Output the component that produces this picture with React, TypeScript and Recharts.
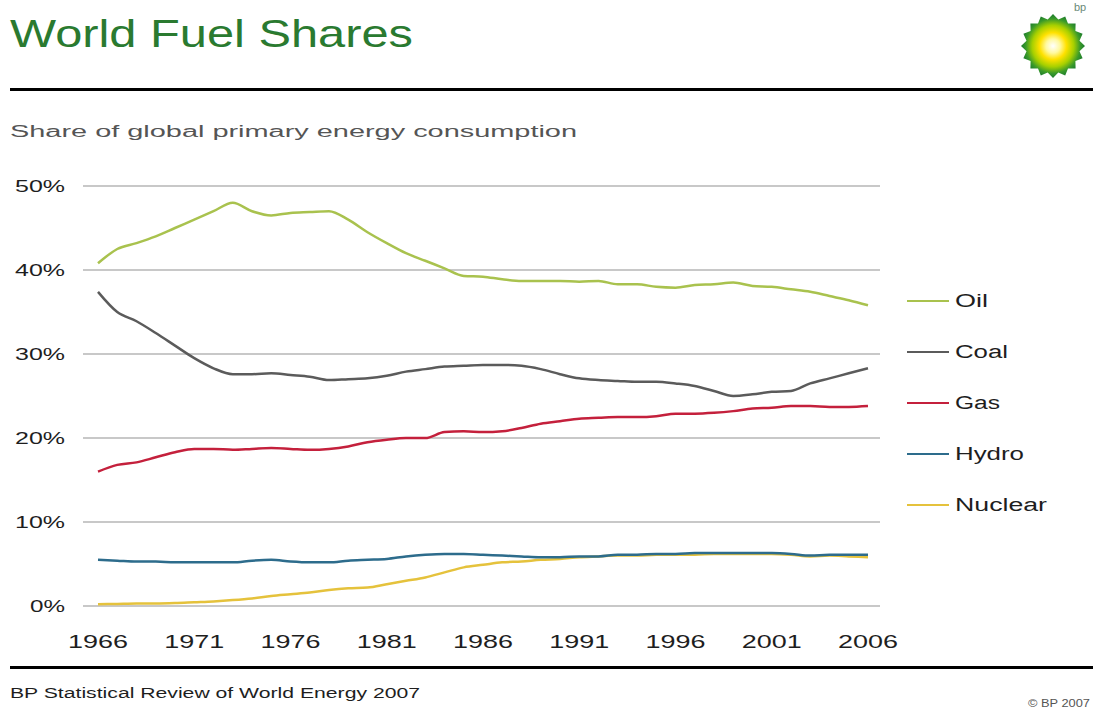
import { CartesianGrid, Line, LineChart, XAxis, YAxis } from "recharts";

const years = [
  1966, 1967, 1968, 1969, 1970, 1971, 1972, 1973, 1974, 1975, 1976, 1977, 1978, 1979,
  1980, 1981, 1982, 1983, 1984, 1985, 1986, 1987, 1988, 1989, 1990, 1991, 1992, 1993,
  1994, 1995, 1996, 1997, 1998, 1999, 2000, 2001, 2002, 2003, 2004, 2005, 2006,
];

const oil = [
  40.8, 42.5, 43.2, 44.0, 45.0, 46.0, 47.0, 48.0, 47.0, 46.5, 46.8, 46.9, 47.0, 46.0,
  44.5, 43.2, 42.0, 41.1, 40.2, 39.3, 39.2, 38.9, 38.7, 38.7, 38.7, 38.6, 38.7, 38.3,
  38.3, 38.0, 37.9, 38.2, 38.3, 38.5, 38.1, 38.0, 37.7, 37.4, 36.9, 36.4, 35.8,
];

const coal = [
  37.4, 35.0, 33.9, 32.5, 31.0, 29.5, 28.3, 27.6, 27.6, 27.7, 27.5, 27.3, 26.9, 27.0,
  27.1, 27.4, 27.9, 28.2, 28.5, 28.6, 28.7, 28.7, 28.6, 28.2, 27.6, 27.1, 26.9, 26.8,
  26.7, 26.7, 26.5, 26.2, 25.6, 25.0, 25.2, 25.5, 25.6, 26.5, 27.1, 27.7, 28.3,
];

const gas = [
  16.0, 16.8, 17.1, 17.7, 18.3, 18.7, 18.7, 18.6, 18.7, 18.8, 18.7, 18.6, 18.7, 19.0,
  19.5, 19.8, 20.0, 20.0, 20.7, 20.8, 20.7, 20.8, 21.2, 21.7, 22.0, 22.3, 22.4, 22.5,
  22.5, 22.6, 22.9, 22.9, 23.0, 23.2, 23.5, 23.6, 23.8, 23.8, 23.7, 23.7, 23.8,
];

const hydro = [
  5.5, 5.4, 5.3, 5.3, 5.2, 5.2, 5.2, 5.2, 5.4, 5.5, 5.3, 5.2, 5.2, 5.4,
  5.5, 5.6, 5.9, 6.1, 6.2, 6.2, 6.1, 6.0, 5.9, 5.8, 5.8, 5.9, 5.9, 6.1,
  6.1, 6.2, 6.2, 6.3, 6.3, 6.3, 6.3, 6.3, 6.2, 6.0, 6.1, 6.1, 6.1,
];

const nuclear = [
  0.2, 0.25, 0.3, 0.3, 0.35, 0.45, 0.55, 0.7, 0.9, 1.2, 1.4, 1.6, 1.9, 2.1,
  2.2, 2.6, 3.0, 3.4, 4.0, 4.6, 4.9, 5.2, 5.3, 5.5, 5.6, 5.8, 5.9, 6.0,
  6.0, 6.1, 6.1, 6.1, 6.2, 6.2, 6.2, 6.2, 6.1, 5.9, 6.0, 5.9, 5.8,
];

const yTicks = [0, 10, 20, 30, 40, 50];

const SERIES = [
  { key: "oil", name: "Oil", color: "#a9c24e", width: 33 },
  { key: "coal", name: "Coal", color: "#5b5b5b", width: 53 },
  { key: "gas", name: "Gas", color: "#c4203c", width: 45 },
  { key: "hydro", name: "Hydro", color: "#2d6c8c", width: 69 },
  { key: "nuclear", name: "Nuclear", color: "#e5c23c", width: 92 },
];

const rows = years.map((year, i) => ({
  year,
  oil: oil[i],
  coal: coal[i],
  gas: gas[i],
  hydro: hydro[i],
  nuclear: nuclear[i],
}));

const FONT = "'Liberation Sans', Arial, sans-serif";

function YTick({ y, payload }: any) {
  const label = `${payload.value}%`;
  return (
    <text
      x={65}
      y={y}
      dy={6}
      textAnchor="end"
      textLength={label.length === 2 ? 35 : 50}
      lengthAdjust="spacingAndGlyphs"
      fontFamily={FONT}
      fontSize={17}
      fill="#1e1e1e"
    >
      {label}
    </text>
  );
}

function XTick({ x, payload }: any) {
  return (
    <text
      x={x - 30}
      y={648}
      textLength={60}
      lengthAdjust="spacingAndGlyphs"
      fontFamily={FONT}
      fontSize={19}
      fill="#1e1e1e"
    >
      {payload.value}
    </text>
  );
}

function FuelLegend() {
  return (
    <div style={{ position: "absolute", left: 905, top: 286, width: 190, height: 260 }}>
      {SERIES.map((s, i) => (
        <div
          key={s.key}
          style={{ position: "absolute", left: 0, top: i * 51, height: 30, width: 190 }}
        >
          <div
            style={{
              position: "absolute",
              left: 2,
              top: 14,
              width: 42,
              height: 2,
              background: s.color,
            }}
          />
          <svg style={{ position: "absolute", left: 48, top: 0 }} width={140} height={30}>
            <text
              x={2}
              y={21}
              textLength={s.width}
              lengthAdjust="spacingAndGlyphs"
              fontFamily={FONT}
              fontSize={18}
              fill="#1e1e1e"
            >
              {s.name}
            </text>
          </svg>
        </div>
      ))}
    </div>
  );
}

function Logo() {
  const cx = 1053;
  const cy = 46;
  const pts: string[] = [];
  const n = 16;
  for (let k = 0; k < n * 2; k++) {
    const r = k % 2 === 0 ? 32 : 27;
    const a = (Math.PI * k) / n;
    pts.push(`${(cx + r * Math.cos(a)).toFixed(1)},${(cy + r * Math.sin(a)).toFixed(1)}`);
  }
  return (
    <g>
      <defs>
        <radialGradient id="bpSun" cx="0.5" cy="0.5" r="0.5">
          <stop offset="0%" stopColor="#ffffff" />
          <stop offset="22%" stopColor="#fff9a0" />
          <stop offset="42%" stopColor="#ffe100" />
          <stop offset="65%" stopColor="#a7d000" />
          <stop offset="85%" stopColor="#3a9a2a" />
          <stop offset="100%" stopColor="#1c7a2e" />
        </radialGradient>
      </defs>
      <polygon points={pts.join(" ")} fill="url(#bpSun)" />
      <text x={1074} y={11} fontFamily={FONT} fontSize={11} fill="#6a8a78">
        bp
      </text>
    </g>
  );
}

export default function App() {
  return (
    <div
      style={{
        position: "absolute",
        left: 0,
        top: 0,
        width: 1093,
        height: 711,
        background: "#ffffff",
        overflow: "hidden",
      }}
    >
      <svg
        width={1093}
        height={711}
        style={{ position: "absolute", left: 0, top: 0 }}
      >
        <text
          x={10}
          y={47}
          textLength={403}
          lengthAdjust="spacingAndGlyphs"
          fontFamily={FONT}
          fontSize={39}
          fill="#2a7a30"
        >
          World Fuel Shares
        </text>
        <Logo />
        <rect x={10} y={88} width={1083} height={3} fill="#000000" />
        <text
          x={10}
          y={137}
          textLength={567}
          lengthAdjust="spacingAndGlyphs"
          fontFamily={FONT}
          fontSize={16}
          fill="#555555"
        >
          Share of global primary energy consumption
        </text>
        <rect x={10} y={666} width={1083} height={3} fill="#000000" />
        <text
          x={10}
          y={698}
          textLength={410}
          lengthAdjust="spacingAndGlyphs"
          fontFamily={FONT}
          fontSize={14}
          fill="#1e1e1e"
        >
          BP Statistical Review of World Energy 2007
        </text>
        <text
          x={1028}
          y={707}
          textLength={62}
          lengthAdjust="spacingAndGlyphs"
          fontFamily={FONT}
          fontSize={11}
          fill="#555555"
        >
          © BP 2007
        </text>
      </svg>
      <div style={{ position: "absolute", left: 0, top: 0 }}>
        <LineChart
          width={1093}
          height={711}
          data={rows}
          margin={{ top: 186, right: 213, bottom: 70, left: 0 }}
        >
          <CartesianGrid
            vertical={false}
            stroke="#c8c8c8"
            strokeWidth={2}
            horizontalValues={yTicks}
          />
          <XAxis
            dataKey="year"
            height={35}
            interval={4}
            padding={{ left: 15, right: 12 }}
            axisLine={false}
            tickLine={false}
            tick={<XTick />}
          />
          <YAxis
            width={83}
            domain={[0, 50]}
            ticks={yTicks}
            axisLine={false}
            tickLine={false}
            tick={<YTick />}
          />
          <Line type="monotone" dataKey="oil" name="Oil" stroke="#a9c24e" strokeWidth={2.5} dot={false} isAnimationActive={false} />
          <Line type="monotone" dataKey="coal" name="Coal" stroke="#5b5b5b" strokeWidth={2.5} dot={false} isAnimationActive={false} />
          <Line type="monotone" dataKey="gas" name="Gas" stroke="#c4203c" strokeWidth={2.5} dot={false} isAnimationActive={false} />
          <Line type="monotone" dataKey="nuclear" name="Nuclear" stroke="#e5c23c" strokeWidth={2.5} dot={false} isAnimationActive={false} />
          <Line type="monotone" dataKey="hydro" name="Hydro" stroke="#2d6c8c" strokeWidth={2.5} dot={false} isAnimationActive={false} />
        </LineChart>
      </div>
      <FuelLegend />
    </div>
  );
}
